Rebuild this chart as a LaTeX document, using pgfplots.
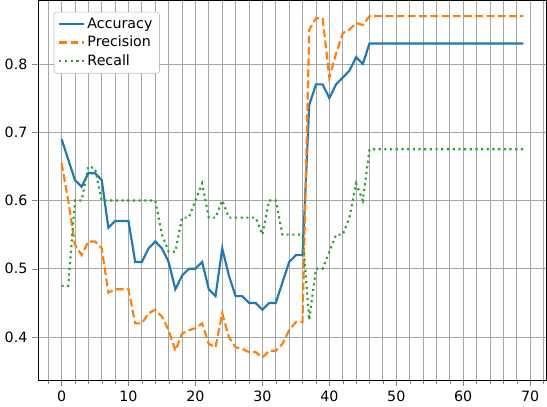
\documentclass[border=0pt]{standalone}
\usepackage{pgfplots}
\pgfplotsset{compat=1.18}
\usepackage{fontspec}
\setmainfont{DejaVu Sans}
\begin{document}
\begin{tikzpicture}
\begin{axis}[
  width=356bp, height=266bp, scale only axis,
  xmin=-3.45, xmax=72.45, ymin=0.337, ymax=0.893,
  xtick={0,10,...,70}, minor xtick={-2,0,...,72},
  ytick={0.4,0.5,0.6,0.7,0.8},
  yticklabel style={/pgf/number format/fixed,/pgf/number format/fixed zerofill,/pgf/number format/precision=1},
  /pgf/number format/assume math mode=true,
  grid=both, major grid style={gray!70, line width=0.6pt}, minor grid style={gray!70, line width=0.6pt},
  tick label style={font=\fontsize{10}{12}\selectfont},
  tick align=outside, tick pos=left,
  legend pos=north west, legend cell align=left,
  legend style={font=\fontsize{10}{12}\selectfont, draw=gray!50, rounded corners=2pt},
]
\addplot[color={rgb,255:red,31;green,119;blue,180}, line width=1.5pt] coordinates {
(0,.69)(1,.66)(2,.63)(3,.62)(4,.64)(5,.64)(6,.63)(7,.56)(8,.57)(9,.57)(10,.57)(11,.51)(12,.51)(13,.53)(14,.54)(15,.53)(16,.51)(17,.47)(18,.49)(19,.50)(20,.50)(21,.51)(22,.47)(23,.46)(24,.53)(25,.49)(26,.46)(27,.46)(28,.45)(29,.45)(30,.44)(31,.45)(32,.45)(33,.48)(34,.51)(35,.52)(36,.52)(37,.74)(38,.77)(39,.77)(40,.75)(41,.77)(42,.78)(43,.79)(44,.81)(45,.80)(46,.83)(50,.83)(60,.83)(69,.83)};
\addlegendentry{Accuracy}
\addplot[color={rgb,255:red,255;green,127;blue,14}, line width=1.5pt, dash pattern=on 5.5pt off 2.4pt] coordinates {
(0,.655)(1,.60)(2,.535)(3,.52)(4,.54)(5,.54)(6,.53)(7,.465)(8,.47)(9,.47)(10,.47)(11,.42)(12,.42)(13,.435)(14,.44)(15,.43)(16,.41)(17,.38)(18,.405)(19,.41)(20,.413)(21,.42)(22,.39)(23,.385)(24,.435)(25,.40)(26,.385)(27,.383)(28,.378)(29,.378)(30,.37)(31,.38)(32,.38)(33,.39)(34,.41)(35,.422)(36,.422)(37,.85)(38,.867)(39,.867)(40,.78)(41,.815)(42,.845)(43,.85)(44,.86)(45,.857)(46,.87)(50,.87)(60,.87)(69,.87)};
\addlegendentry{Precision}
\addplot[color={rgb,255:red,44;green,160;blue,44}, line width=1.5pt, dash pattern=on 1.5pt off 2.5pt] coordinates {
(0,.475)(1,.475)(2,.60)(3,.60)(4,.65)(5,.647)(6,.60)(7,.60)(8,.60)(9,.60)(10,.60)(11,.60)(12,.60)(13,.60)(14,.60)(15,.55)(16,.525)(17,.525)(18,.575)(19,.575)(20,.60)(21,.625)(22,.575)(23,.575)(24,.60)(25,.575)(26,.575)(27,.575)(28,.575)(29,.575)(30,.55)(31,.60)(32,.60)(33,.55)(34,.55)(35,.55)(36,.55)(37,.425)(38,.50)(39,.50)(40,.525)(41,.55)(42,.55)(43,.575)(44,.625)(45,.60)(46,.675)(50,.675)(60,.675)(69,.675)};
\addlegendentry{Recall}
\end{axis}
\end{tikzpicture}
\end{document}
